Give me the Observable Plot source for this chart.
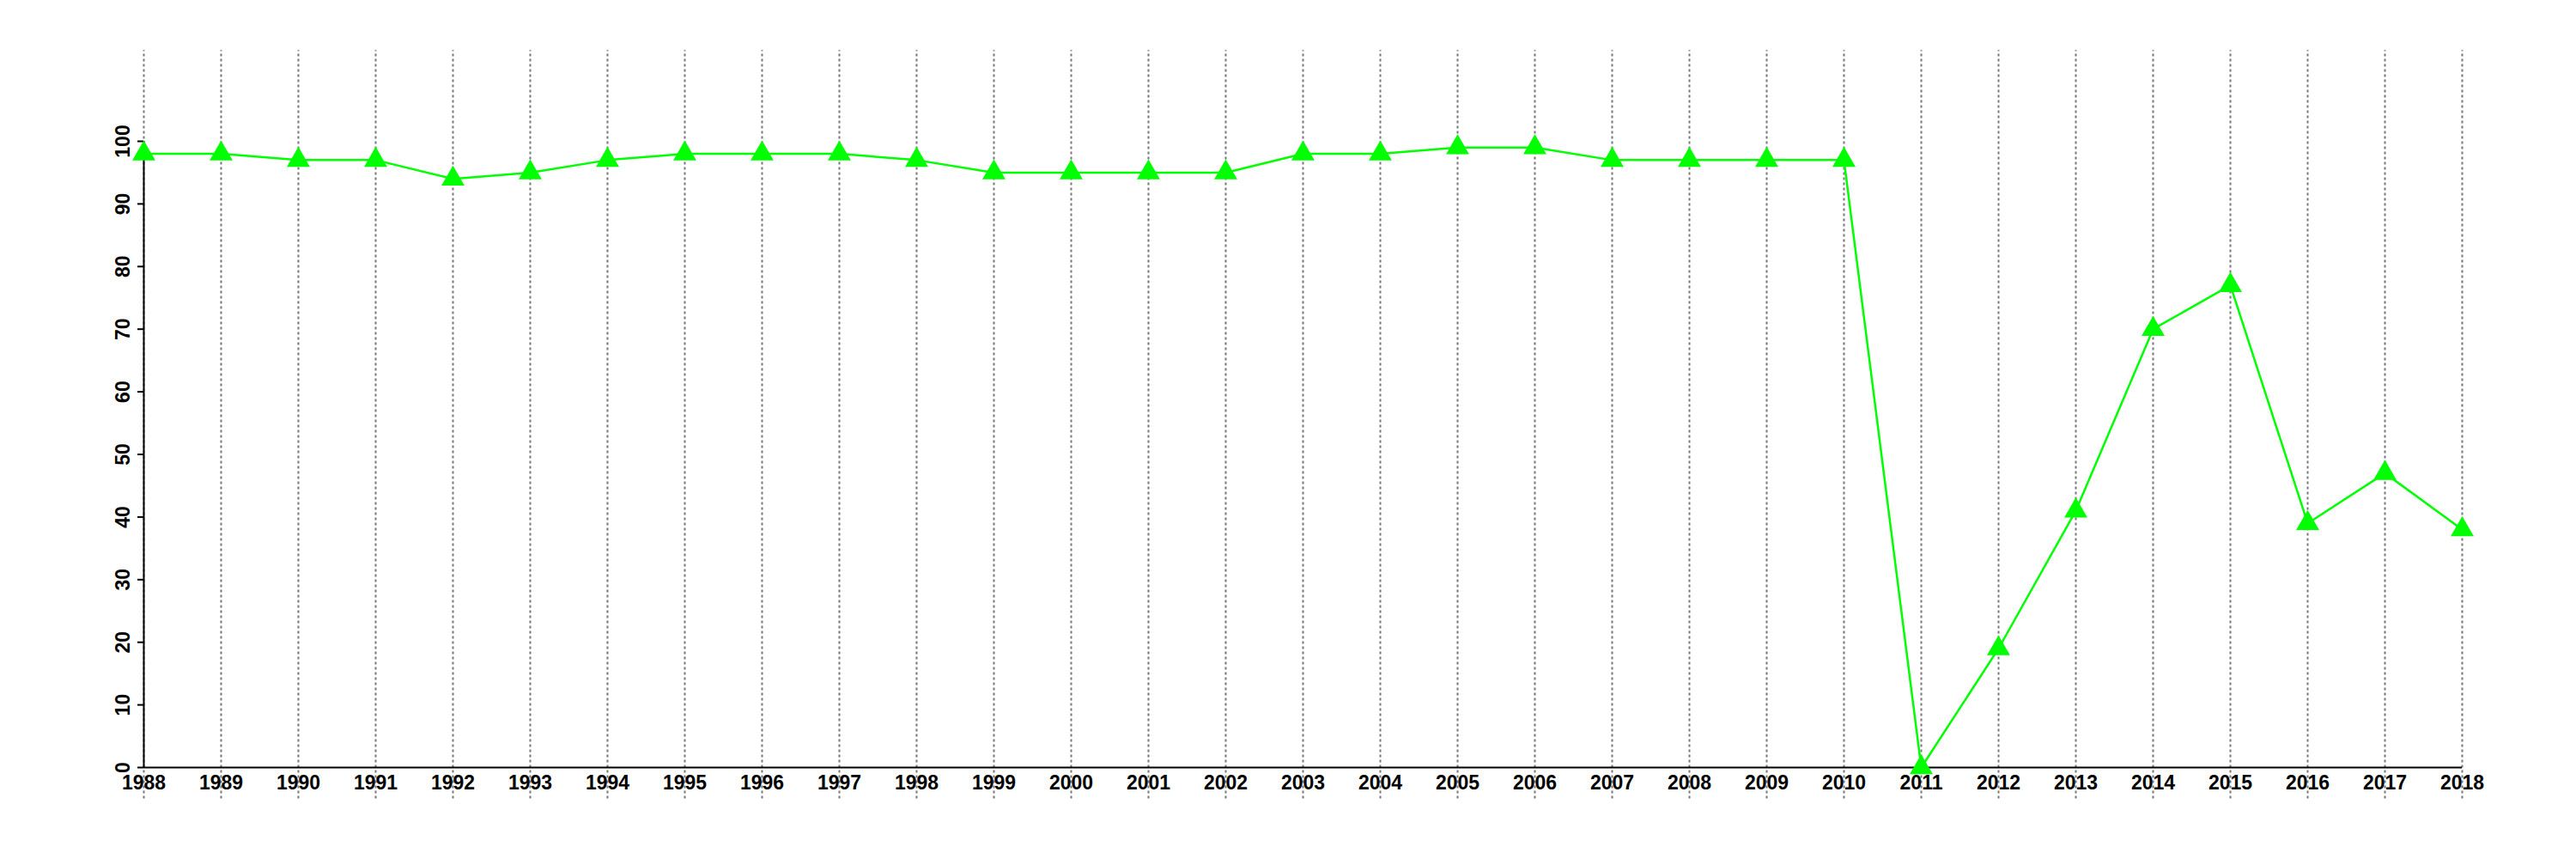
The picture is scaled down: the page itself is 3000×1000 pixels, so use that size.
<!DOCTYPE html>
<html>
<head>
<meta charset="utf-8">
<script src="https://cdn.jsdelivr.net/npm/d3@7"></script>
<script src="https://cdn.jsdelivr.net/npm/@observablehq/plot@0.6"></script>
<style>
  html, body { margin: 0; padding: 0; background: #ffffff; }
  #chart svg { display: block; }
</style>
</head>
<body>
<div id="chart"></div>
<script>
const years = [1988,1989,1990,1991,1992,1993,1994,1995,1996,1997,1998,1999,2000,2001,2002,2003,2004,2005,2006,2007,2008,2009,2010,2011,2012,2013,2014,2015,2016,2017,2018];
const values = [98,98,97,97,94,95,97,98,98,98,97,95,95,95,95,98,98,99,99,97,97,97,97,0,19,41,70,77,39,47,38];
const yTicks = [0,10,20,30,40,50,60,70,80,90,100];

const data = years.map((y, i) => ({year: y, value: values[i]}));
const green = "#00ff00";
const font = "'Liberation Sans', Arial, sans-serif";

const chart = Plot.plot({
  width: 3000,
  height: 1000,
  marginLeft: 167,
  marginRight: 133,
  marginTop: 164,
  marginBottom: 107,
  style: {fontFamily: font, fontWeight: "bold", fontSize: "23px", background: "#ffffff", color: "#000"},
  x: {type: "linear", domain: [1988, 2018], axis: null},
  y: {type: "linear", domain: [0, 100], axis: null},
  marks: [
    Plot.ruleX(years, {x: d => d, y1: -5, y2: 114.5, stroke: "#777", strokeWidth: 2, strokeDasharray: "3,3"}),
    Plot.ruleY([0], {stroke: "#000", strokeWidth: 2}),
    Plot.ruleX([1988], {y1: 0, y2: 100, stroke: "#000", strokeWidth: 2}),
    Plot.axisY({ticks: yTicks, tickSize: 7, tickFormat: () => "", label: null, stroke: "#000", strokeWidth: 2}),
    Plot.text(yTicks, {y: d => d, text: d => String(d), frameAnchor: "left", dx: -24, rotate: -90, textAnchor: "middle", lineAnchor: "middle", fontSize: 23, fontWeight: "bold", fill: "#000"}),
    Plot.text(years, {x: d => d, text: d => String(d), frameAnchor: "bottom", dy: 18, textAnchor: "middle", lineAnchor: "middle", fontSize: 23, fontWeight: "bold", fill: "#000"}),
    Plot.line(data, {x: "year", y: "value", stroke: green, strokeWidth: 2.5}),
    Plot.dot(data, {x: "year", y: "value", symbol: "triangle", r: 10, fill: green, stroke: "none"})
  ]
});
document.getElementById("chart").appendChild(chart);
</script>
</body>
</html>
